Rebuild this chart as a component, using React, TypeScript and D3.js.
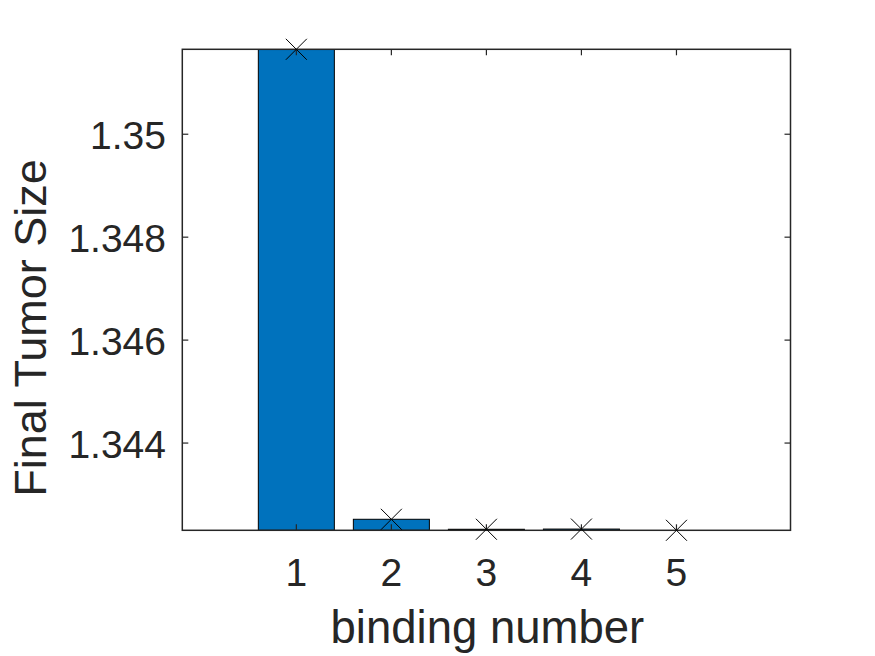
import React from "react";
import * as d3 from "d3";

const categories = [1, 2, 3, 4, 5];
const values = [1.35165, 1.342519, 1.342325, 1.342329, 1.342305];
const yTicks = [1.344, 1.346, 1.348, 1.35];
const yTickLabels = ["1.344", "1.346", "1.348", "1.35"];

const W = 875;
const H = 656;
const left = 182.3;
const right = 790.5;
const top = 49.3;
const bottom = 530.3;
const ink = "#262626";
const font = "Arial, 'Liberation Sans', Helvetica, sans-serif";

export default function App() {
  const x = d3.scaleLinear().domain([-0.2, 6.2]).range([left, right]);
  const y = d3.scaleLinear().domain([1.342305, 1.35165]).range([bottom, top]);
  const bw = x(0.8) - x(0);
  const tl = 6;
  return (
    <svg width={W} height={H} style={{ position: "absolute", left: 0, top: 0, background: "#fff" }}>
      <defs>
        <clipPath id="plotclip">
          <rect x={left} y={top} width={right - left} height={bottom - top} />
        </clipPath>
      </defs>
      <rect x={0} y={0} width={W} height={H} fill="#fff" />
      <g clipPath="url(#plotclip)">
        {categories.map((c, i) => {
          const yv = y(values[i]);
          const h = Math.max(0, bottom - yv);
          return (
            <rect key={c} x={x(c) - bw / 2} y={yv} width={bw} height={h}
              fill="#0072BD" stroke="#000" strokeWidth={1} />
          );
        })}
      </g>
      {/* axes box */}
      <rect x={left} y={top} width={right - left} height={bottom - top} fill="none" stroke={ink} strokeWidth={1.5} />
      {/* x ticks */}
      {categories.map((c) => (
        <g key={"xt" + c}>
          <line x1={x(c)} x2={x(c)} y1={bottom} y2={bottom - tl} stroke={ink} strokeWidth={1.2} />
          <line x1={x(c)} x2={x(c)} y1={top} y2={top + tl} stroke={ink} strokeWidth={1.2} />
          <text x={x(c)} y={585.7} textAnchor="middle" fontFamily={font} fontSize={39} fill={ink}>{c}</text>
        </g>
      ))}
      {/* y ticks */}
      {yTicks.map((t, i) => (
        <g key={"yt" + t}>
          <line x1={left} x2={left + tl} y1={y(t)} y2={y(t)} stroke={ink} strokeWidth={1.2} />
          <line x1={right} x2={right - tl} y1={y(t)} y2={y(t)} stroke={ink} strokeWidth={1.2} />
          <text x={166} y={y(t) + 14.5} textAnchor="end" fontFamily={font} fontSize={39} fill={ink}>{yTickLabels[i]}</text>
        </g>
      ))}
      {/* markers */}
      {categories.map((c, i) => {
        const cx = x(c);
        const cy = y(values[i]);
        const s = 10.5;
        return (
          <g key={"m" + c} stroke="#000" strokeWidth={1}>
            <line x1={cx - s} y1={cy - s} x2={cx + s} y2={cy + s} />
            <line x1={cx - s} y1={cy + s} x2={cx + s} y2={cy - s} />
          </g>
        );
      })}
      <text x={(left + right) / 2 + 1} y={643} textAnchor="middle" fontFamily={font} fontSize={45.5} fill={ink}>binding number</text>
      <text transform={`translate(46,328) rotate(-90)`} textAnchor="middle" fontFamily={font} fontSize={45} fill={ink}>Final Tumor Size</text>
    </svg>
  );
}
